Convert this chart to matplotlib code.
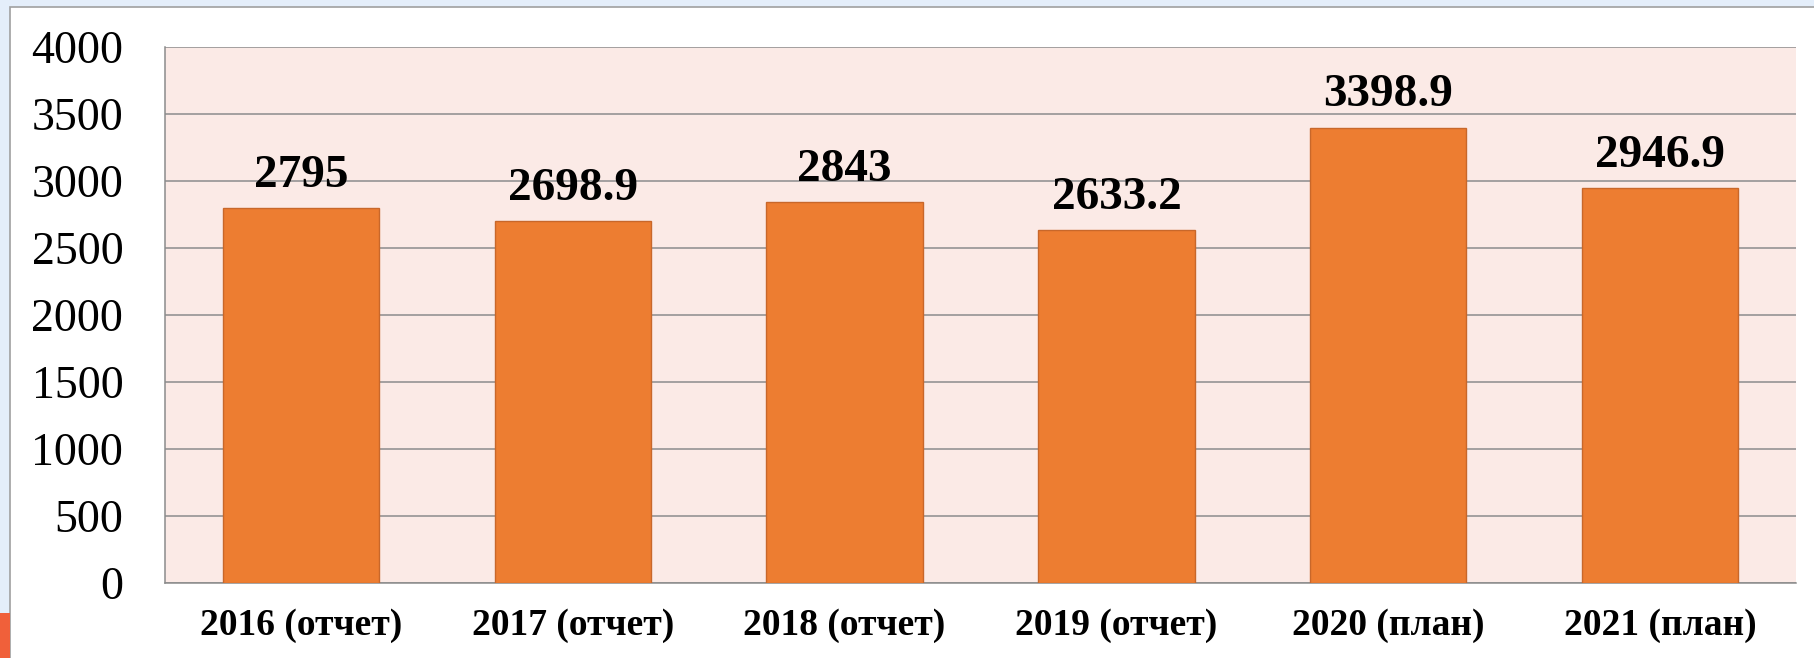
import numpy as np
import matplotlib
matplotlib.use("Agg")
import matplotlib.pyplot as plt
from matplotlib.patches import Rectangle

# data
categories = ["2016 (отчет)", "2017 (отчет)", "2018 (отчет)",
              "2019 (отчет)", "2020 (план)", "2021 (план)"]
values = [2795, 2698.9, 2843, 2633.2, 3398.9, 2946.9]
value_labels = ["2795", "2698.9", "2843", "2633.2", "3398.9", "2946.9"]
yticks = [0, 500, 1000, 1500, 2000, 2500, 3000, 3500, 4000]

plt.rcParams['font.family'] = ['Liberation Serif', 'DejaVu Serif']

W, H = 1814, 658
fig = plt.figure(figsize=(W / 100, H / 100), dpi=100)
fig.patch.set_facecolor('#E4EEFA')

# white chart panel with thin grey frame (kept behind the axes)
panel = Rectangle((10 / W, -0.01), 1.0, 1 - 7 / H + 0.01, transform=fig.transFigure,
                  facecolor='white', edgecolor='#A0A0A0', linewidth=1.2, zorder=-10)
fig.patches.append(panel)
# small warm decoration at bottom-left of the slide
fig.patches.append(Rectangle((0, 0), 10 / W, 45 / H, transform=fig.transFigure,
                             facecolor='#F0603A', edgecolor='none', zorder=-10))

ax = fig.add_axes([165 / W, 1 - 583 / H, (1796 - 165) / W, (583 - 47) / H])
ax.set_facecolor('#FBEAE6')

x = np.arange(len(categories))
bars = ax.bar(x, values, width=0.575, color='#ED7D31', edgecolor='#C8672A',
              linewidth=1.0, zorder=3)

for xi, v, lab in zip(x, values, value_labels):
    ax.annotate(lab, (xi, v), xytext=(0, 15.5), textcoords='offset points',
                ha='center', va='baseline', fontsize=34, fontweight='bold',
                color='black', zorder=4)

ax.set_xlim(-0.5, len(categories) - 0.5)
ax.set_ylim(0, 4000)
ax.set_yticks(yticks)
ax.set_yticklabels([str(t) for t in yticks], fontsize=33)
ax.set_xticks(x)
ax.set_xticklabels(categories, fontsize=27, fontweight='bold')
ax.tick_params(axis='y', length=0, pad=30)
ax.tick_params(axis='x', length=0, pad=18)

ax.grid(axis='y', color='#8C8C8C', linewidth=1.1, zorder=1)
ax.set_axisbelow(True)
for s in ['top', 'right']:
    ax.spines[s].set_visible(False)
for s in ['left', 'bottom']:
    ax.spines[s].set_color('#8C8C8C')
    ax.spines[s].set_linewidth(1.1)

fig.savefig('out.png', dpi=100, facecolor=fig.get_facecolor())
